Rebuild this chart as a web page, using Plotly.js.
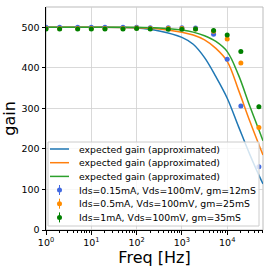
<!DOCTYPE html>
<html><head><meta charset="utf-8">
<script src="https://cdn.plot.ly/plotly-3.0.1.min.js"></script>
<style>html,body{margin:0;padding:0;background:#fff}#chart{width:270px;height:270px}</style>
</head><body><div id="chart"></div>
<script>
// ---- data ----
const lineFreq   = [1, 10, 100, 316, 1000, 1778, 3162, 5623, 10000, 17783, 31623, 56234, 61660];
const lineBlue   = [500, 500, 498, 491, 475, 458, 425, 378, 325, 255, 186, 123, 114];
const lineOrange = [500, 500, 499, 496, 488, 481, 469, 448, 416, 345, 268, 196, 185];
const lineGreen  = [500, 500, 500, 498, 493, 488, 479, 465, 440, 382, 305, 232, 220];

const pointFreq   = [1, 2, 5, 10, 20, 50, 100, 200, 500, 1000, 2000, 5000, 10000, 20000, 50000];
const pointBlue   = [500, 500, 500, 500, 500, 500, 500, 499, 499, 499, 498, 483, 421, 306, 156];
const pointOrange = [497, 497, 497, 497, 497, 497, 498, 497, 497, 497, 496, 490, 471, 412, 253];
const pointGreen  = [496, 496, 496, 496, 496, 496, 497, 496, 495, 495, 496, 492, 481, 440, 304];
const errBlue     = [1, 1, 1, 1, 1, 1, 1, 1, 1, 1, 1, 2, 2, 3, 5];
const errOrange   = [1, 1, 1, 1, 1, 1, 1, 1, 1, 1, 1, 2, 2, 3, 5];
const errGreen    = [1, 1, 1, 1, 1, 1, 1, 1, 1, 1, 1, 2, 2, 3, 5];

const lineNames  = ['expected gain (approximated)', 'expected gain (approximated)', 'expected gain (approximated)'];
const pointNames = ['Ids=0.15mA, Vds=100mV, gm=12mS', 'Ids=0.5mA, Vds=100mV, gm=25mS', 'Ids=1mA, Vds=100mV, gm=35mS'];

const xTickVals = [1, 10, 100, 1000, 10000];
const xTickText = ['10<sup>0</sup>', '10<sup>1</sup>', '10<sup>2</sup>', '10<sup>3</sup>', '10<sup>4</sup>'];
const yTickVals = [0, 100, 200, 300, 400, 500];
const xTitle = 'Freq [Hz]';
const yTitle = 'gain';

// ---- styles ----
const lineColors  = ['#1f77b4', '#ff7f0e', '#2ca02c'];
const pointColors = ['#4169e1', '#ff8c00', '#008000'];
const FONT = 'DejaVu Sans, sans-serif';

const W = 270, H = 270;
const M = {l: 46, r: 7, t: 7, b: 40};
const pw = W - M.l - M.r, ph = H - M.t - M.b;
const px = x => (x - M.l) / pw;
const py = y => (H - M.b - y) / ph;

const lineSeries  = [lineBlue, lineOrange, lineGreen];
const pointSeries = [pointBlue, pointOrange, pointGreen];
const errSeries   = [errBlue, errOrange, errGreen];

const traces = [];
lineSeries.forEach((ys, i) => traces.push({
  x: lineFreq, y: ys, type: 'scatter', mode: 'lines', name: lineNames[i],
  line: {color: lineColors[i], width: 1.5, shape: 'spline', smoothing: 1},
  showlegend: false, hoverinfo: 'skip'
}));
pointSeries.forEach((ys, i) => traces.push({
  x: pointFreq, y: ys, type: 'scatter', mode: 'markers', name: pointNames[i],
  marker: {color: pointColors[i], size: 5},
  error_y: {type: 'data', array: errSeries[i], color: pointColors[i], thickness: 1, width: 0},
  showlegend: false, hoverinfo: 'skip'
}));

// minor tick positions for log axis
const minorVals = [];
for (let d = 1; d <= 10000; d *= 10) for (let k = 2; k <= 9; k++) minorVals.push(d * k);

// ---- manual legend (compact like matplotlib) ----
const shapes = [
  {type: 'rect', xref: 'paper', yref: 'paper', x0: 0, x1: 1, y0: 0, y1: 1,
   line: {color: '#bbbbbb', width: 1}, layer: 'below'}
];
const annotations = [];
const lg = {left: 48, right: 259, top: 142, bottom: 226, rows: [149, 162.7, 176.4, 190, 203.7, 217.4]};
shapes.push({type: 'rect', xref: 'paper', yref: 'paper', x0: px(lg.left), x1: px(lg.right),
  y0: py(lg.bottom), y1: py(lg.top), fillcolor: 'rgba(255,255,255,0.8)', line: {color: '#cccccc', width: 1}, layer: 'above'});
const allNames = lineNames.concat(pointNames);
allNames.forEach((name, i) => {
  const y = lg.rows[i];
  if (i < 3) {
    shapes.push({type: 'line', xref: 'paper', yref: 'paper', x0: px(50), x1: px(69), y0: py(y), y1: py(y),
      line: {color: lineColors[i], width: 1.5}, layer: 'above'});
  } else {
    const c = pointColors[i - 3];
    shapes.push({type: 'line', xref: 'paper', yref: 'paper', x0: px(59.5), x1: px(59.5), y0: py(y - 5), y1: py(y + 5),
      line: {color: c, width: 1}, layer: 'above'});
    shapes.push({type: 'circle', xref: 'paper', yref: 'paper', x0: px(57), x1: px(62), y0: py(y + 2.5), y1: py(y - 2.5),
      fillcolor: c, line: {color: c, width: 0}, layer: 'above'});
  }
  annotations.push({xref: 'paper', yref: 'paper', x: px(77), y: py(y), xanchor: 'left', yanchor: 'middle',
    text: name, showarrow: false, font: {family: FONT, size: 9.3, color: '#000'}});
});

const layout = {
  width: W, height: H, margin: M,
  paper_bgcolor: '#fff', plot_bgcolor: '#fff',
  font: {family: FONT, color: '#000'},
  showlegend: false,
  xaxis: {
    type: 'log', range: [0, 4.79], tickvals: xTickVals, ticktext: xTickText,
    ticks: 'outside', ticklen: 3.5, tickcolor: '#000', tickfont: {family: FONT, size: 9.5, color: '#000'},
    showgrid: true, gridcolor: '#d0d0d0', gridwidth: 0.8,
    showline: true, linecolor: '#000', linewidth: 1, zeroline: false,
    minor: {tickvals: minorVals, ticks: 'outside', ticklen: 2, tickcolor: '#000', showgrid: false},
    title: {text: xTitle, font: {family: FONT, size: 16, color: '#000'}, standoff: 4}
  },
  yaxis: {
    range: [0, 550], tickvals: yTickVals,
    ticks: 'outside', ticklen: 3.5, tickcolor: '#000', tickfont: {family: FONT, size: 9.5, color: '#000'},
    showgrid: true, gridcolor: '#d0d0d0', gridwidth: 0.8,
    showline: true, linecolor: '#000', linewidth: 1, zeroline: false,
    title: {text: yTitle, font: {family: FONT, size: 16, color: '#000'}, standoff: 4}
  },
  shapes: shapes,
  annotations: annotations
};

Plotly.newPlot('chart', traces, layout, {staticPlot: true, displayModeBar: false});
</script></body></html>
